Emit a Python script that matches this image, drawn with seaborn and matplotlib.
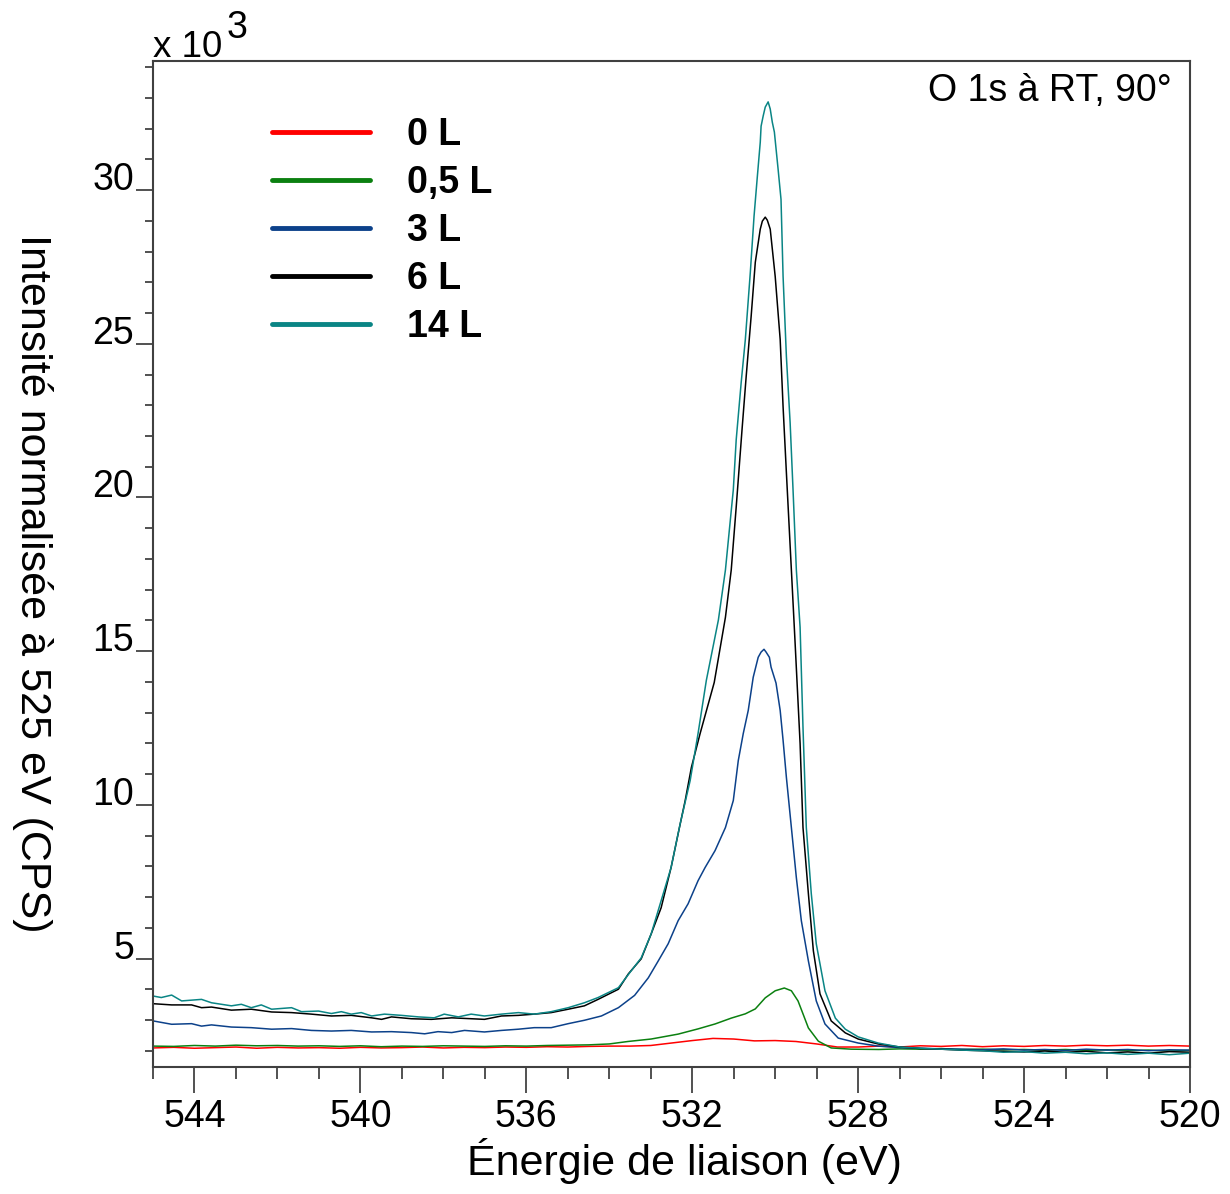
import pandas as pd
import matplotlib.pyplot as plt
import seaborn as sns
from matplotlib.lines import Line2D
from matplotlib.ticker import MultipleLocator

# Spectres O 1s (intensité en unités de 10^3 CPS)
doses = ["0 L", "0,5 L", "3 L", "6 L", "14 L"]
couleurs = ["#ff0000", "#0b8010", "#0c418a", "#000000", "#0a8585"]

# 0 L
e_0L = [545, 544.5, 544, 543.5, 543, 542.5, 542, 541.5, 541, 540.5, 540, 539.5, 539, 538.5,
        538, 537.5, 537, 536.5, 536, 535.5, 535, 534.5, 534, 533.5, 533, 532.5, 532, 531.5,
        531, 530.5, 530, 529.5, 529, 528.5, 528, 527.5, 527, 526.5, 526, 525.5, 525, 524.5,
        524, 523.5, 523, 522.5, 522, 521.5, 521, 520.5, 520]
i_0L = [2.09, 2.11, 2.08, 2.10, 2.12, 2.08, 2.11, 2.09, 2.10, 2.08, 2.11, 2.09, 2.10, 2.12,
        2.09, 2.11, 2.10, 2.12, 2.11, 2.13, 2.12, 2.14, 2.15, 2.15, 2.17, 2.25, 2.33, 2.40,
        2.38, 2.32, 2.33, 2.30, 2.22, 2.12, 2.12, 2.15, 2.12, 2.16, 2.14, 2.17, 2.13, 2.16,
        2.14, 2.17, 2.15, 2.18, 2.16, 2.18, 2.15, 2.17, 2.15]

# 0,5 L
e_05L = [545, 544.5, 544, 543.5, 543, 542.5, 542, 541.5, 541, 540.5, 540, 539.5, 539, 538.5,
         538, 537.5, 537, 536.5, 536, 535.5, 535, 534.5, 534, 533.55, 532.99, 532.34, 531.86,
         531.45, 531.06, 530.72, 530.48, 530.24, 530.0, 529.78, 529.61, 529.45, 529.33, 529.2,
         528.96, 528.65, 528.17, 527.5, 527, 526.5, 526, 525.5, 525, 524.5, 524, 523.5, 523,
         522.5, 522, 521.5, 521, 520.5, 520]
i_05L = [2.15, 2.14, 2.17, 2.15, 2.18, 2.16, 2.17, 2.15, 2.16, 2.14, 2.16, 2.13, 2.15, 2.14,
         2.16, 2.15, 2.14, 2.16, 2.15, 2.17, 2.18, 2.19, 2.22, 2.30, 2.38, 2.54, 2.71,
         2.87, 3.06, 3.20, 3.36, 3.72, 3.95, 4.04, 3.95, 3.62, 3.20, 2.74,
         2.31, 2.09, 2.05, 2.04, 2.06, 2.05, 2.07, 2.04, 2.05, 2.03, 2.04, 2.02, 2.04,
         2.01, 2.03, 2.00, 2.02, 1.99, 2.01]

# 3 L
e_3L = [545, 544.55, 544.07, 543.83, 543.59, 543.11, 542.63, 542.14, 541.66, 541.18, 540.70,
        540.22, 539.73, 539.25, 538.77, 538.45, 538.13, 537.80, 537.49, 537.01, 536.60, 536.19,
        535.81, 535.40, 534.99, 534.60, 534.19, 533.78, 533.39, 533.06, 532.82, 532.58, 532.34,
        532.10, 531.86, 531.69, 531.45, 531.2, 531.01, 530.89, 530.77, 530.65, 530.53, 530.41,
        530.34, 530.27, 530.22, 530.14, 530.10, 529.98, 529.88, 529.81, 529.73, 529.61, 529.49,
        529.37, 529.2, 529.01, 528.8, 528.48, 528.0, 527.52, 527.0, 526.5, 526, 525.5, 525,
        524.5, 524, 523.5, 523, 522.5, 522, 521.5, 521, 520.5, 520]
i_3L = [2.97, 2.86, 2.88, 2.80, 2.84, 2.77, 2.75, 2.70, 2.72, 2.66, 2.64,
        2.66, 2.61, 2.62, 2.59, 2.55, 2.62, 2.59, 2.66, 2.61, 2.66, 2.70,
        2.75, 2.75, 2.88, 2.99, 3.13, 3.40, 3.80, 4.37, 4.92, 5.48, 6.23,
        6.78, 7.53, 7.96, 8.51, 9.26, 10.14, 11.44, 12.32, 13.07, 14.15, 14.80,
        14.97, 15.06, 14.97, 14.80, 14.48, 13.96, 13.07, 12.10, 10.89, 9.26, 7.63,
        6.23, 4.92, 3.62, 2.87, 2.41, 2.25, 2.15, 2.10, 2.08, 2.06, 2.05, 2.03,
        2.06, 2.02, 2.04, 2.01, 2.05, 2.02, 2.04, 2.00, 2.03, 2.02]

# 6 L
e_6L = [545, 544.55, 544.07, 543.83, 543.59, 543.11, 542.63, 542.14, 541.66, 541.18, 540.70,
        540.22, 539.73, 539.49, 539.25, 538.77, 538.29, 537.80, 537.32, 537.01, 536.60, 536.19,
        535.81, 535.40, 534.99, 534.60, 534.27, 533.78, 533.54, 533.23, 532.99, 532.75, 532.51,
        532.34, 532.17, 532.02, 531.81, 531.47, 531.2, 531.06, 530.94, 530.8, 530.7, 530.58,
        530.48, 530.36, 530.31, 530.24, 530.19, 530.12, 530.0, 529.88, 529.81, 529.73, 529.61,
        529.52, 529.40, 529.33, 529.20, 529.08, 528.92, 528.65, 528.31, 528.0, 527.52, 527.0,
        526.5, 526, 525.5, 525, 524.5, 524, 523.5, 523, 522.5, 522, 521.5, 521, 520.5, 520]
i_6L = [3.53, 3.49, 3.49, 3.40, 3.42, 3.32, 3.35, 3.26, 3.24, 3.19, 3.13,
        3.15, 3.07, 3.02, 3.10, 3.04, 3.02, 3.07, 3.04, 3.02, 3.13, 3.15,
        3.19, 3.24, 3.35, 3.46, 3.67, 4.00, 4.50, 4.99, 5.80, 6.65, 7.96,
        9.06, 10.14, 11.22, 12.32, 13.98, 16.10, 17.64, 19.69, 22.20, 23.93, 25.89,
        27.65, 28.73, 28.99, 29.12, 29.02, 28.73, 27.19, 25.14, 22.95, 20.80, 17.64,
        15.26, 12.00, 9.26, 7.11, 5.25, 3.85, 2.97, 2.58, 2.38, 2.22, 2.12,
        2.07, 2.05, 2.02, 2.00, 1.98, 1.96, 1.99, 1.95, 1.98, 1.93, 1.96, 1.92, 1.97, 1.95]

# 14 L
e_14L = [545.0, 544.80, 544.55, 544.31, 543.83, 543.59, 543.11, 542.87, 542.63, 542.39, 542.14,
         541.66, 541.42, 541.01, 540.70, 540.46, 540.22, 539.98, 539.73, 539.42, 539.01, 538.60,
         538.22, 537.98, 537.64, 537.33, 537.01, 536.60, 536.19, 535.81, 535.40, 534.99, 534.60,
         534.27, 533.78, 533.5, 533.23, 532.99, 532.75, 532.51, 532.29, 532.05, 531.86, 531.66,
         531.37, 531.2, 531.01, 530.94, 530.82, 530.72, 530.6, 530.51, 530.43, 530.36, 530.34,
         530.29, 530.24, 530.17, 530.12, 530.07, 530.02, 529.93, 529.86, 529.81, 529.73, 529.64,
         529.57, 529.49, 529.40, 529.33, 529.25, 529.13, 529.01, 528.8, 528.55, 528.31, 528.0,
         527.52, 527.0, 526.5, 526, 525.5, 525, 524.5, 524, 523.5, 523, 522.5, 522, 521.5, 521,
         520.5, 520]
i_14L = [3.78, 3.73, 3.81, 3.62, 3.67, 3.56, 3.46, 3.51, 3.40, 3.49, 3.35,
         3.40, 3.27, 3.29, 3.21, 3.27, 3.19, 3.24, 3.13, 3.19, 3.15, 3.10,
         3.07, 3.19, 3.10, 3.19, 3.13, 3.19, 3.24, 3.19, 3.27, 3.40, 3.56,
         3.73, 4.05, 4.55, 5.02, 5.80, 6.88, 7.96, 9.39, 10.79, 12.32, 14.05,
         16.01, 17.64, 20.25, 21.88, 23.74, 25.14, 27.32, 29.15, 30.45, 31.56, 32.08,
         32.41, 32.70, 32.87, 32.64, 32.21, 31.89, 30.68, 29.70, 27.19, 24.58, 22.43,
         20.25, 17.64, 15.78, 12.52, 9.26, 7.11, 5.48, 3.95, 3.06, 2.70, 2.45,
         2.25, 2.12, 2.08, 2.05, 2.02, 2.00, 1.95, 1.97, 1.92, 1.95, 1.90, 1.93, 1.88, 1.92,
         1.87, 1.92]

energies = [e_0L, e_05L, e_3L, e_6L, e_14L]
intensites = [i_0L, i_05L, i_3L, i_6L, i_14L]

df = pd.concat([pd.DataFrame({"E": e, "I": i, "dose": d})
                for e, i, d in zip(energies, intensites, doses)], ignore_index=True)

sns.set_theme(style="ticks")
plt.rcParams["font.family"] = ["Liberation Sans", "DejaVu Sans"]
plt.rcParams["text.color"] = "black"
plt.rcParams["axes.labelcolor"] = "black"
plt.rcParams["xtick.labelcolor"] = "black"
plt.rcParams["ytick.labelcolor"] = "black"

fig = plt.figure(figsize=(12.3, 11.94), dpi=100)
ax = fig.add_axes([153 / 1230, 1 - 1067 / 1194, 1037 / 1230, 1006 / 1194])

sns.lineplot(data=df, x="E", y="I", hue="dose", hue_order=doses, palette=couleurs,
             estimator=None, sort=False, linewidth=1.1, legend=False, ax=ax)

ax.set_xlim(545, 520)
ax.set_ylim(1.47, 34.2)

ax.xaxis.set_major_locator(MultipleLocator(4))
ax.xaxis.set_minor_locator(MultipleLocator(1))
ax.yaxis.set_minor_locator(MultipleLocator(1))
ax.set_yticks([5, 10, 15, 20, 25, 30])

ax.tick_params(axis="x", which="major", direction="out", length=18.7, width=1.2,
               labelsize=27, pad=4, color="#333333", top=False)
ax.tick_params(axis="x", which="minor", direction="out", length=8.6, width=1.2,
               color="#333333", top=False)
ax.tick_params(axis="y", which="major", direction="out", length=12.2, width=1.2,
               labelsize=27, pad=1.5, color="#333333", right=False)
ax.tick_params(axis="y", which="minor", direction="out", length=5.8, width=1.2,
               color="#333333", right=False)
for lbl in ax.get_yticklabels():
    lbl.set_va("baseline")

for sp in ax.spines.values():
    sp.set_color("#404040")
    sp.set_linewidth(1.5)

ax.set_xlabel("Énergie de liaison (eV)", fontsize=31, va="center", ha="center")
ax.xaxis.set_label_coords(0.512, -0.093)
ax.set_ylabel("Intensité normalisée à 525 eV (CPS)", fontsize=31, rotation=-90,
              va="center", ha="center")
ax.yaxis.set_label_coords(-0.116, 0.481)

# Légende
poignees = [Line2D([], [], color=c, lw=3.5) for c in couleurs]
ax.legend(poignees, doses, loc="upper left", bbox_to_anchor=(0.1148, 0.944),
          frameon=False, borderpad=0, borderaxespad=0, handlelength=2.6,
          handletextpad=1.0, labelspacing=0.32, prop={"weight": "bold", "size": 27})

ax.text(0.9826, 0.988, "O 1s à RT, 90°", transform=ax.transAxes, ha="right", va="top",
        fontsize=27)

fig.text(153 / 1230, 1 - 57 / 1194, "x 10", fontsize=26.5, va="baseline", ha="left")
fig.text(227 / 1230, 1 - 38 / 1194, "3", fontsize=27, va="baseline", ha="left")

fig.savefig("out.png", dpi=100)
